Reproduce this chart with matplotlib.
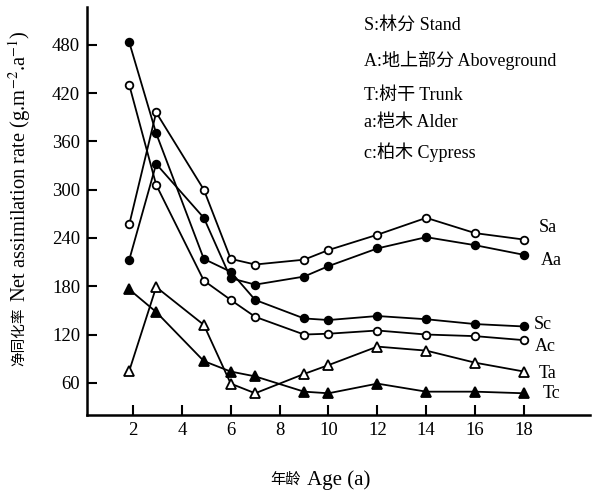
import matplotlib.pyplot as plt

plt.rcParams['mathtext.fontset'] = 'stix'
serif = ['Liberation Serif', 'Noto Sans CJK SC']

# ages (a) and net assimilation rate (g.m-2.a-1)
ages = [1.85, 2.95, 4.9, 6.0, 7.0, 9.0, 10.0, 12.0, 14.0, 16.0, 18.0]
sa = [257, 396, 300, 214, 207, 213, 225, 244, 265, 246, 238]
aa = [213, 332, 265, 190, 182, 192, 205, 227, 241, 231, 219]
sc = [483, 370, 214, 198, 163, 140, 138, 143, 139, 133, 130]
ac = [430, 306, 187, 163, 142, 120, 121, 125, 120, 118, 113]
ta = [75, 179, 132, 59, 47, 71, 82, 105, 100, 85, 74]
tc = [176, 148, 87, 74, 68, 49, 47, 59, 49, 49, 47]

yticks = [60, 120, 180, 240, 300, 360, 420, 480]
xticks = [2, 4, 6, 8, 10, 12, 14, 16, 18]

legend_lines = ['S:林分 Stand', 'A:地上部分 Aboveground', 'T:树干 Trunk',
                'a:桤木 Alder', 'c:柏木 Cypress']

# name, values, marker, facecolor, label offset (dx, dy)
series = [
    ('Sa', sa, 'o', 'white', (0.6, 15)),
    ('Aa', aa, 'o', 'black', (0.7, -7)),
    ('Sc', sc, 'o', 'black', (0.4, 3)),
    ('Ac', ac, 'o', 'white', (0.45, -8)),
    ('Ta', ta, '^', 'white', (0.6, -2)),
    ('Tc', tc, '^', 'black', (0.75, 0)),
]

fig = plt.figure(figsize=(5.97, 4.96), dpi=100)
ax = fig.add_axes([87 / 597, 81 / 496, 503 / 597, 408 / 496])

for name, vals, mk, fc, (dx, dy) in series:
    ax.plot(ages, vals, color='black', lw=1.3, marker=mk, ms=5.5 if mk == 'o' else 6.5,
            mfc=fc, mec='black', mew=1.3)
    ax.text(ages[-1] + dx, vals[-1] + dy, name, fontsize=13, family=serif,
            ha='left', va='center')

ax.set_xlim(0.12, 20.7)
ax.set_ylim(20, 527)
ax.set_xticks(xticks)
ax.set_yticks(yticks)
ax.tick_params(direction='in', length=7, width=1.5, labelsize=13.5, pad=5)
for lab in ax.get_xticklabels() + ax.get_yticklabels():
    lab.set_family(serif)
for s in ['top', 'right']:
    ax.spines[s].set_visible(False)
for s in ['left', 'bottom']:
    ax.spines[s].set_linewidth(1.8)

ys = [25, 60, 95, 123, 152]
for txt, y in zip(legend_lines, ys):
    fig.text(364 / 597, 1 - y / 496, txt, fontsize=13, family=serif,
             ha='left', va='center')

# y label: Chinese part and English part (mathtext cannot fall back to CJK)
fig.text(20 / 597, 1 - 366 / 496, '净同化率', rotation=90, fontsize=10.5,
         family=serif, ha='center', va='bottom')
fig.text(20 / 597, 1 - 302 / 496, 'Net assimilation rate (g.m$^{-2}$.a$^{-1}$)',
         rotation=90, fontsize=14.8, family='Liberation Serif', ha='center', va='bottom')

fig.text(301 / 597, 1 - 480 / 496, '年龄', fontsize=11, family=serif,
         ha='right', va='center')
fig.text(303 / 597, 1 - 480 / 496, ' Age (a)', fontsize=15, family='Liberation Serif',
         ha='left', va='center')

fig.savefig('out.png', dpi=100)
